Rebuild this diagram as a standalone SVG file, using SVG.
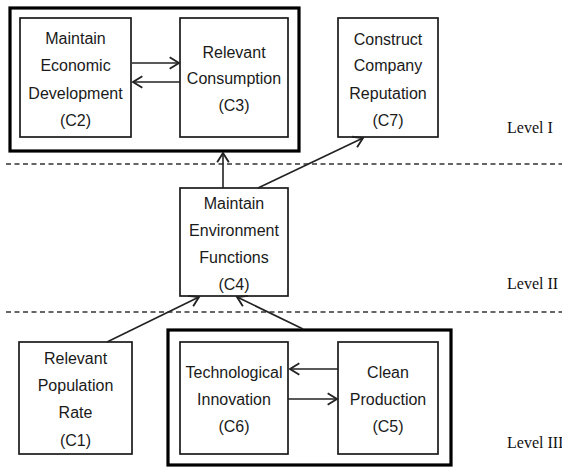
<svg xmlns="http://www.w3.org/2000/svg" width="562" height="468" viewBox="0 0 562 468">
<defs>
<marker id="ah" markerUnits="userSpaceOnUse" markerWidth="14" markerHeight="14" refX="10" refY="6" orient="auto" viewBox="0 0 12 12">
<path d="M2,1 L10,6 L2,11" fill="none" stroke="#222" stroke-width="1.6"/>
</marker>
<style>
.box{fill:#fff;stroke:#1a1a1a;stroke-width:1.7}
.grp{fill:none;stroke:#000;stroke-width:3.2}
.t{font-family:"Liberation Sans",Arial,sans-serif;font-size:16px;fill:#1a1a1a;text-anchor:middle}
.lv{font-family:"Liberation Serif","Times New Roman",serif;font-size:16px;fill:#111}
.dash{stroke:#333;stroke-width:1.6;stroke-dasharray:5 3.5;fill:none}
.c{stroke:#222;stroke-width:1.6;fill:none;marker-end:url(#ah)}
</style>
</defs>
<rect width="562" height="468" fill="#fff"/>
<g id="levels">
<line class="dash" x1="6" y1="164" x2="562" y2="164"/>
<line class="dash" x1="6" y1="312" x2="562" y2="312"/>
<text class="lv" x="507" y="133">Level I</text>
<text class="lv" x="507" y="289">Level II</text>
<text class="lv" x="507" y="448">Level III</text>
</g>
<g id="group1"><rect class="grp" x="10" y="8" width="289" height="143"/></g>
<g id="group2"><rect class="grp" x="168" y="330" width="283" height="135"/></g>
<g id="C2"><rect class="box" x="20" y="18" width="111" height="119"/>
<text class="t" x="75.5" y="44">Maintain</text><text class="t" x="75.5" y="71">Economic</text><text class="t" x="75.5" y="99">Development</text><text class="t" x="75.5" y="126">(C2)</text></g>
<g id="C3"><rect class="box" x="180" y="18" width="108" height="119"/>
<text class="t" x="234" y="58">Relevant</text><text class="t" x="234" y="84">Consumption</text><text class="t" x="234" y="111">(C3)</text></g>
<g id="C7"><rect class="box" x="338" y="18" width="100" height="119"/>
<text class="t" x="388" y="45">Construct</text><text class="t" x="388" y="71">Company</text><text class="t" x="388" y="99">Reputation</text><text class="t" x="388" y="126">(C7)</text></g>
<g id="C4"><rect class="box" x="180" y="188" width="108" height="108"/>
<text class="t" x="234" y="209">Maintain</text><text class="t" x="234" y="236">Environment</text><text class="t" x="234" y="263">Functions</text><text class="t" x="234" y="290">(C4)</text></g>
<g id="C1"><rect class="box" x="19" y="342" width="113" height="112"/>
<text class="t" x="75.5" y="364">Relevant</text><text class="t" x="75.5" y="391">Population</text><text class="t" x="75.5" y="418">Rate</text><text class="t" x="75.5" y="446">(C1)</text></g>
<g id="C6"><rect class="box" x="180" y="342" width="108" height="112"/>
<text class="t" x="234" y="378">Technological</text><text class="t" x="234" y="405">Innovation</text><text class="t" x="234" y="432">(C6)</text></g>
<g id="C5"><rect class="box" x="338" y="342" width="100" height="112"/>
<text class="t" x="388" y="378">Clean</text><text class="t" x="388" y="405">Production</text><text class="t" x="388" y="432">(C5)</text></g>
<g id="connectors">
<line class="c" x1="132" y1="63" x2="179" y2="63"/>
<line class="c" x1="180" y1="82" x2="133" y2="82"/>
<line class="c" x1="223" y1="188" x2="223" y2="153"/>
<line class="c" x1="258" y1="188" x2="363" y2="138"/>
<line class="c" x1="107" y1="342" x2="199" y2="297"/>
<line class="c" x1="303" y1="329" x2="237" y2="297"/>
<line class="c" x1="338" y1="369" x2="290" y2="369"/>
<line class="c" x1="288" y1="399" x2="337" y2="399"/>
</g>
</svg>
